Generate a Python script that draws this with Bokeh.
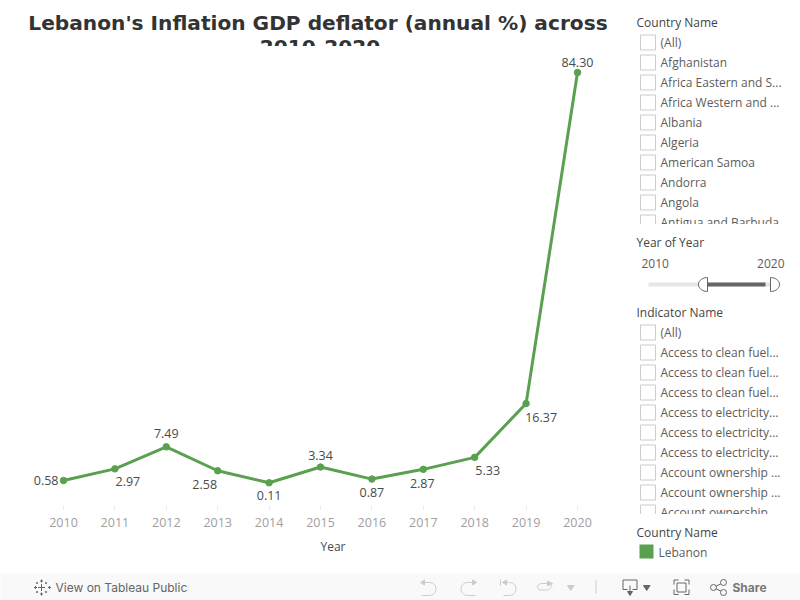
import numpy as np
from bokeh.core.properties import value
from bokeh.embed import file_html
from bokeh.layouts import column, row
from bokeh.models import ColumnDataSource, FixedTicker, Range1d
from bokeh.plotting import figure
from bokeh.resources import INLINE

# ---- data ----
years = [2010, 2011, 2012, 2013, 2014, 2015, 2016, 2017, 2018, 2019, 2020]
deflator = [0.58, 2.97, 7.49, 2.58, 0.11, 3.34, 0.87, 2.87, 5.33, 16.37, 84.30]
point_labels = ["0.58", "2.97", "7.49", "2.58", "0.11", "3.34", "0.87", "2.87", "5.33", "16.37", "84.30"]
title_lines = ["Lebanon's Inflation GDP deflator (annual %) across", "2010-2020"]
x_axis_title = "Year"
countries = ["(All)", "Afghanistan", "Africa Eastern and S...", "Africa Western and ...", "Albania", "Algeria",
             "American Samoa", "Andorra", "Angola", "Antigua and Barbuda"]
indicators = ["(All)", "Access to clean fuel...", "Access to clean fuel...", "Access to clean fuel...",
              "Access to electricity...", "Access to electricity...", "Access to electricity...",
              "Account ownership ...", "Account ownership ...", "Account ownership"]

# ---- style ----
GREEN = "#59a14f"
FONT = "Open Sans"
label_dx = [-5, 13, 0, -13, 0, 0, 0, -1, 13, 15, 0]
label_dy = [0, 13, -13, 14, 13, -12, 13, 14, 13, 14, -10]
label_align = ["right"] + ["center"] * 10


def chrome(width, height, x0, x1, y0, y1, bg="#ffffff"):
    f = figure(width=width, height=height, x_range=Range1d(x0, x1), y_range=Range1d(y1, y0),
               x_axis_type=None, y_axis_type=None, toolbar_location=None, output_backend="svg",
               min_border=0, outline_line_color=None, background_fill_color=bg, border_fill_color=bg)
    f.grid.visible = False
    return f


def txt(f, x, y, s, size=12, color="#5c5c5c", align="left", style="normal", font=FONT):
    f.text([x], [y], text=[s], text_font=value(font), text_font_size=f"{size}px", text_color=color,
           text_align=align, text_baseline="middle", text_font_style=style)


# ---- title: its frame cuts the second line, as in the reference ----
head = chrome(620, 46, 0, 620, 0, 46)
head.text([317.5, 319.5], [22.5, 46], text=title_lines, text_font=value("DejaVu Sans"), text_font_size="20.15px",
          text_font_style="bold", text_color="#333333", text_align="center", text_baseline="middle")

# ---- chart ----
px_x = 51.4
px_y = 408 / (84.30 - 0.58)
chart = figure(frame_width=620, frame_height=459, width=620, height=489,
               x_range=Range1d(2010 - 63 / px_x, 2010 + (620 - 63) / px_x),
               y_range=Range1d(0.58 - (505 - 480) / px_y, 0.58 + (480 - 46) / px_y),
               y_axis_type=None, toolbar_location=None, output_backend="svg",
               min_border_left=0, min_border_right=0, min_border_top=0, min_border_bottom=30,
               outline_line_color=None)
chart.grid.visible = False
src = ColumnDataSource(dict(year=years, val=deflator, lab=point_labels, dx=label_dx, dy=label_dy, al=label_align))
chart.line("year", "val", source=src, line_color=GREEN, line_width=3)
chart.scatter("year", "val", source=src, size=6.5, color=GREEN)
chart.text("year", "val", text="lab", source=src, x_offset="dx", y_offset="dy", text_align="al",
           text_baseline="middle", text_font=value(FONT), text_font_size="12.5px", text_color="#4a4a4a")
ax = chart.xaxis[0]
ax.ticker = FixedTicker(ticks=years, minor_ticks=list(np.arange(2009.75, 2020.8, 0.25)))
ax.major_label_text_font = FONT
ax.major_label_text_font_size = "12.5px"
ax.major_label_text_color = "#a0a0a0"
ax.major_label_standoff = 8
ax.axis_line_color = None
ax.major_tick_line_color = "#e6e6e6"
ax.major_tick_in = 0
ax.major_tick_out = 4
ax.minor_tick_line_color = "#eeeeee"
ax.minor_tick_in = 0
ax.minor_tick_out = 1

# ---- axis title: centred on the pane, right of the frame's centre ----
caption = chrome(620, 38, 0, 620, 535, 573)
txt(caption, 320, 546, x_axis_title, color="#4a4a4a")

# ---- filter panel ----
side = chrome(180, 573, 620, 800, 0, 573)


def check_list(items, y_first, y_clip):
    ys = [y_first + 20 * i for i in range(len(items))]
    side.quad(left=640, right=655, top=[y - 7.5 for y in ys], bottom=[y + 7.5 for y in ys],
              fill_color="#ffffff", line_color="#cccccc", line_width=1)
    side.text(660, [y - 0.5 for y in ys], text=items, text_font=value(FONT), text_font_size="12px",
              text_color="#5c5c5c", text_align="left", text_baseline="middle")
    side.quad(left=625, right=800, top=y_clip, bottom=y_clip + 12, fill_color="#ffffff", line_color=None)


txt(side, 636, 21.5, "Country Name", color="#444444")
check_list(countries, 42, 223.5)
txt(side, 636, 241.5, "Year of Year", color="#444444")
txt(side, 641, 263, "2010")
txt(side, 784, 263, "2020", align="right")
side.quad(left=648, right=771, top=282, bottom=286, fill_color="#e6e6e6", line_color=None)
side.quad(left=706, right=765, top=282, bottom=286, fill_color="#666666", line_color=None)
theta = np.linspace(-np.pi / 2, np.pi / 2, 24)
side.patch(707 - 9 * np.cos(theta), 284 + 7 * np.sin(theta), fill_color="#ffffff", line_color="#666666", line_width=1)
side.patch(770 + 9 * np.cos(theta), 284 + 7 * np.sin(theta), fill_color="#ffffff", line_color="#666666", line_width=1)
txt(side, 636, 311.5, "Indicator Name", color="#444444")
check_list(indicators, 332, 513.5)
txt(side, 636, 531.5, "Country Name", color="#444444")
side.quad(left=639, right=653, top=544, bottom=558, fill_color=GREEN, line_color=None)
txt(side, 658, 551.5, "Lebanon")

# ---- bottom toolbar ----
bar = chrome(800, 27, 0, 800, 573, 600, bg="#f9f9f9")
GREY = "#cccccc"
DARK = "#666666"
# logo
for cx, cy, r in [(41, 587, 3.5), (35, 587, 1.5), (49, 587, 1.5), (41, 580.5, 1.5), (41, 593.5, 1.5),
                  (36.5, 582.5, 1), (45.5, 582.5, 1), (36.5, 591.5, 1), (45.5, 591.5, 1)]:
    bar.multi_line([[cx - r, cx + r], [cx, cx]], [[cy, cy], [cy - r, cy + r]], line_color=DARK, line_width=1)
txt(bar, 55, 586.5, "View on Tableau Public", color="#666666", font="Inter", size=12)
# undo / redo
arc = np.linspace(-np.pi / 2, np.pi / 2, 16)


def curl(x_flat, x_round, sign):
    xs = [x_flat, x_round] + list(x_round + sign * 6.5 * np.cos(arc)) + [x_flat]
    ys = [582] + [582] + list(588.5 + 6.5 * np.sin(arc)) + [595]
    return xs, ys


for flat, rnd, sign in [(421, 429, 1), (475, 467, -1), (503, 509, 1)]:
    xs, ys = curl(flat, rnd, sign)
    bar.line(xs, ys, line_color=GREY, line_width=1)
    bar.patch([flat - sign * 1, flat + sign * 3, flat + sign * 3], [582, 579.5, 584.5], color=GREY)
bar.line([500, 500], [579, 585], line_color=GREY, line_width=1)
bar.line([540, 549, 551.5, 548, 539, 536.5, 540], [583, 583, 586, 589.5, 589.5, 586, 583], line_color=GREY, line_width=1)
bar.patch([547, 552, 547], [580.5, 583, 585.5], color=GREY)
bar.patch([567, 573.5, 570.2], [585, 585, 590], color=GREY)
bar.line([595.5, 595.5], [580, 593], line_color=GREY, line_width=1)
# download
bar.line([627, 622.5, 622.5, 636.5, 636.5, 632], [589, 589, 579.5, 579.5, 589, 589], line_color=DARK, line_width=1)
bar.line([629.5, 629.5], [585, 593], line_color=DARK, line_width=1)
bar.patch([627, 632, 629.5], [591, 591, 595], color=DARK)
bar.patch([643, 649.5, 646.2], [585, 585, 590], color=DARK)
# fullscreen
for a, b in [([678, 673.5, 673.5], [579.5, 579.5, 584]), ([684, 688.5, 688.5], [579.5, 579.5, 584]),
             ([673.5, 673.5, 678], [589, 594, 594]), ([688.5, 688.5, 684], [589, 594, 594])]:
    bar.line(a, b, line_color=DARK, line_width=1)
bar.quad(left=676.5, right=685.5, top=582.5, bottom=591.5, fill_color=None, line_color=DARK, line_width=1)
# share
bar.multi_line([[713, 723], [713, 723]], [[587, 582], [587, 592]], line_color=DARK, line_width=1)
bar.scatter([713, 723, 723], [587, 582, 592], size=6, fill_color="#f9f9f9", line_color=DARK, line_width=1)
txt(bar, 732, 586.5, "Share", color="#777777", font="Inter", size=12, style="bold")

page = column(row(column(head, chart, caption, spacing=0), side, spacing=0), bar, spacing=0)
open("out.html", "w").write(file_html(page, INLINE))
